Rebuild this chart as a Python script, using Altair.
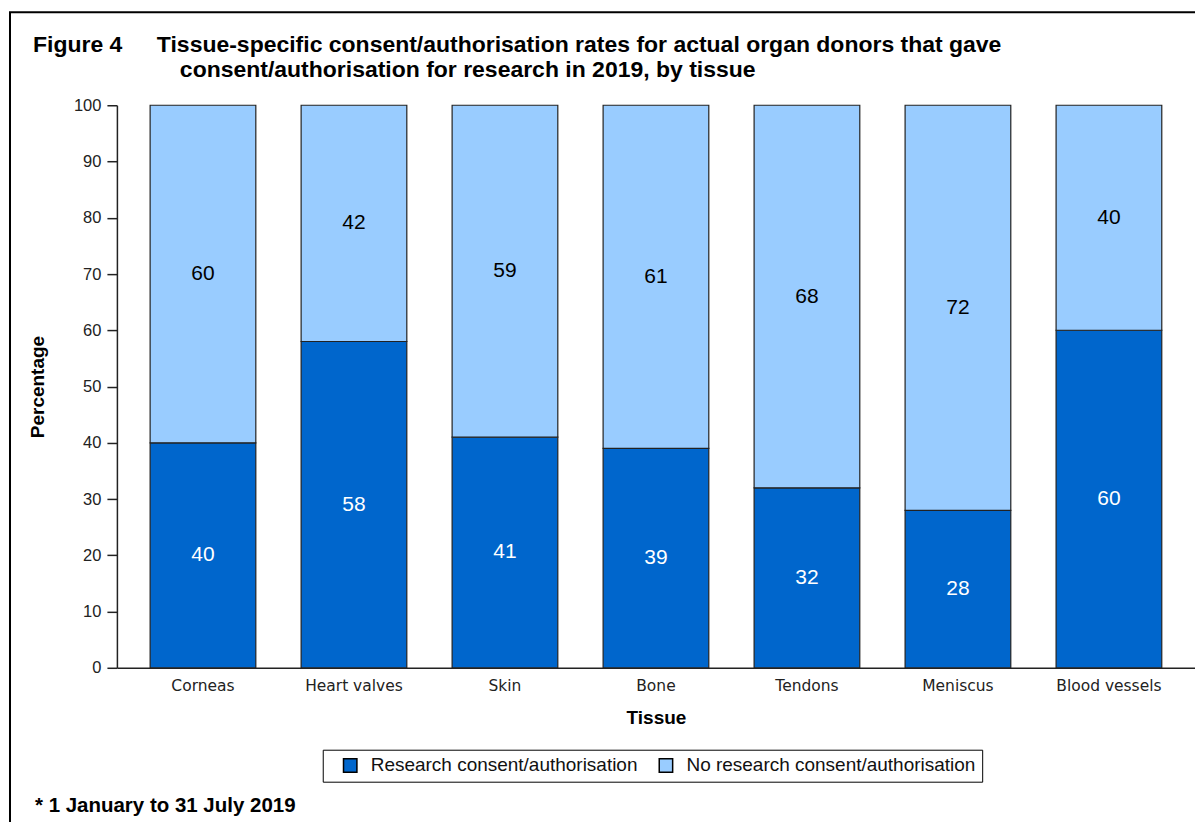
import altair as alt
import pandas as pd

tissues = ["Corneas", "Heart valves", "Skin", "Bone", "Tendons", "Meniscus", "Blood vessels"]
research = [40, 58, 41, 39, 32, 28, 60]
no_research = [60, 42, 59, 61, 68, 72, 40]
series = ["Research consent/authorisation", "No research consent/authorisation"]
series_colors = ["#0066CC", "#99CCFF"]
y_ticks = list(range(0, 101, 10))

title_fig = "Figure 4"
title_line1 = "Tissue-specific consent/authorisation rates for actual organ donors that gave"
title_line2 = "consent/authorisation for research in 2019, by tissue"
footnote = "* 1 January to 31 July 2019"
x_title = "Tissue"
y_title = "Percentage"

rows = []
for i, t in enumerate(tissues):
    rows.append({"tissue": t, "series": series[0], "value": research[i], "order": 0})
    rows.append({"tissue": t, "series": series[1], "value": no_research[i], "order": 1})
df = pd.DataFrame(rows)
one = pd.DataFrame({"k": [0]})

W, H = 1079, 563
NARROW = "Liberation Sans Narrow, Arial Narrow, Liberation Sans, sans-serif"
ARIAL = "Liberation Sans, Arial, sans-serif"

x_scale = alt.Scale(domain=tissues, paddingInner=0.3, paddingOuter=0.22)
y_scale = alt.Scale(domain=[0, 100], nice=False)

x_axis = alt.Axis(title=x_title, labelAngle=0, ticks=False, tickSize=0,
                  labelPadding=11, labelFont="DejaVu Sans", labelFontSize=15.5,
                  labelColor="#222222", titleFont=ARIAL, titleFontSize=19,
                  titleFontWeight="bold", titleColor="black",
                  titleBaseline="middle", titleY=50,
                  domainColor="#222222", domainWidth=1.5)
y_axis = alt.Axis(title=y_title, values=y_ticks, grid=False, tickSize=10,
                  labelPadding=6, labelFont=ARIAL, labelFontSize=16.5,
                  labelColor="#222222", tickColor="#222222", tickWidth=1.5,
                  domainColor="#222222", domainWidth=1.5,
                  titleFont=ARIAL, titleFontSize=19, titleFontWeight="bold",
                  titleColor="black", titleAngle=270, titleBaseline="middle",
                  titleX=-79, titleY=H / 2)

bars = alt.Chart(df).mark_bar(stroke="#222222", strokeWidth=1.2).encode(
    x=alt.X("tissue:N", sort=tissues, scale=x_scale, axis=x_axis),
    y=alt.Y("value:Q", stack="zero", scale=y_scale, axis=y_axis),
    color=alt.Color("series:N", scale=alt.Scale(domain=series, range=series_colors),
                    legend=alt.Legend(title=None, orient="none", legendX=206, legendY=645,
                                      direction="horizontal", columns=2,
                                      symbolType="square", symbolSize=180,
                                      symbolStrokeColor="black", symbolStrokeWidth=1.5,
                                      labelFont=ARIAL, labelFontSize=19, labelColor="#111111",
                                      strokeColor="black", fillColor="white", padding=6,
                                      symbolOffset=12, labelOffset=11, columnPadding=6,
                                      labelLimit=0)),
    order=alt.Order("order:Q"),
)

labels = alt.Chart(df).transform_stack(
    stack="value", groupby=["tissue"], as_=["y0", "y1"],
    sort=[alt.SortField("order", order="ascending")]
).transform_calculate(
    mid="(datum.y0 + datum.y1) / 2"
).mark_text(font=ARIAL, fontSize=21, baseline="middle", align="center").encode(
    x=alt.X("tissue:N", sort=tissues, scale=x_scale, axis=x_axis),
    y=alt.Y("mid:Q", scale=y_scale, axis=y_axis),
    text=alt.Text("value:Q"),
    color=alt.condition(alt.datum.order == 0, alt.value("white"), alt.value("black")),
)

border = alt.Chart(one).mark_rect(fillOpacity=0, stroke="black", strokeWidth=2).encode(
    x=alt.value(-107), x2=alt.value(W + 40), y=alt.value(-93), y2=alt.value(H + 200)
)

t_fig = alt.Chart(one).mark_text(text=title_fig, align="left", baseline="alphabetic",
                                 font=NARROW, fontSize=23, fontWeight="bold", color="black").encode(
    x=alt.value(-84), y=alt.value(-53))
t_l1 = alt.Chart(one).mark_text(text=title_line1, align="left", baseline="alphabetic",
                                font=NARROW, fontSize=23, fontWeight="bold", color="black").encode(
    x=alt.value(40), y=alt.value(-53))
t_l2 = alt.Chart(one).mark_text(text=title_line2, align="left", baseline="alphabetic",
                                font=NARROW, fontSize=23, fontWeight="bold", color="black").encode(
    x=alt.value(63), y=alt.value(-28))
t_foot = alt.Chart(one).mark_text(text=footnote, align="left", baseline="alphabetic",
                                  font=NARROW, fontSize=20.5, fontWeight="bold", color="black").encode(
    x=alt.value(-82), y=alt.value(707))

chart = alt.layer(border, bars, labels, t_fig, t_l1, t_l2, t_foot).properties(
    width=W, height=H,
    autosize=alt.AutoSizeParams(type="none"),
    padding={"left": 109, "top": 97, "right": 0, "bottom": 154},
    background="white",
).configure_view(stroke=None)

chart.save("out.html", embed_options={"renderer": "svg", "actions": False})
